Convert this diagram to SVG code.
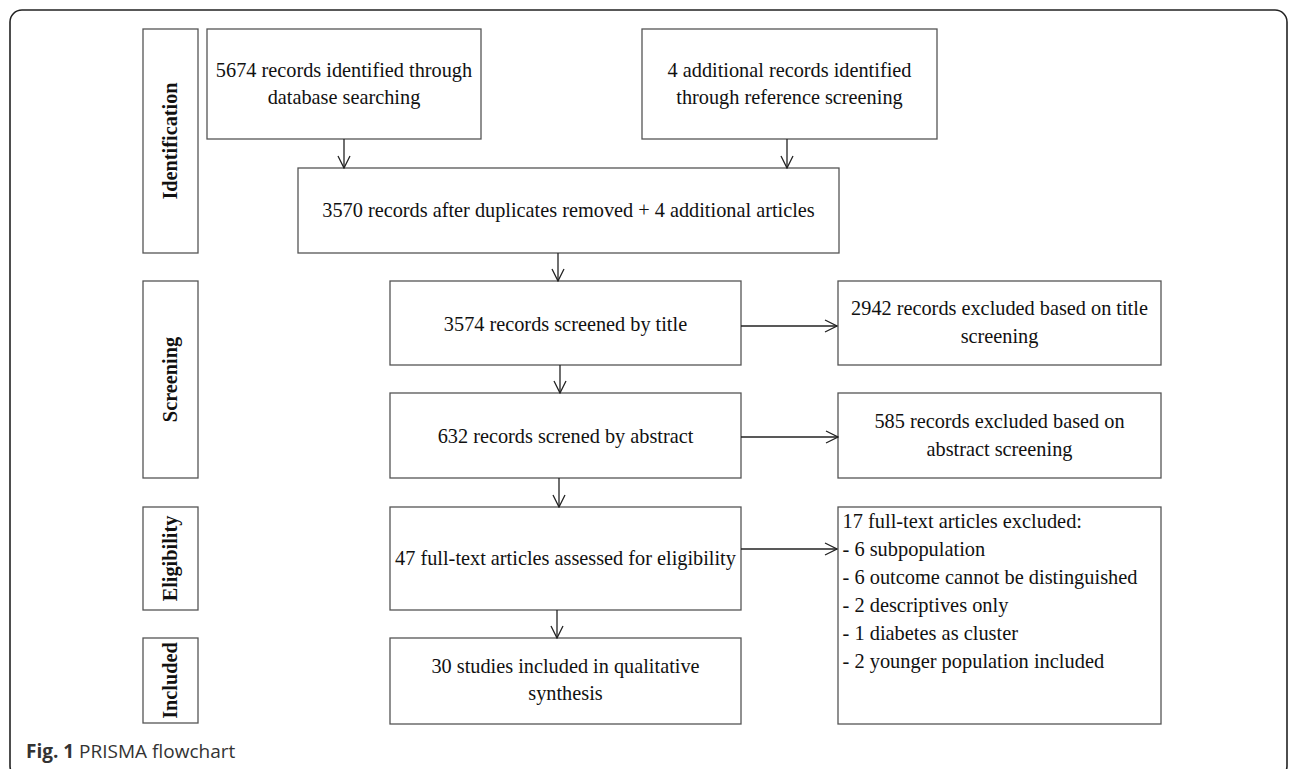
<svg xmlns="http://www.w3.org/2000/svg" width="1290" height="769" viewBox="0 0 1290 769">
<style>
.frame{fill:none;stroke:#222;stroke-width:1.6}
.box{fill:#fff;stroke:#555;stroke-width:1.3}
.t{font-family:"Liberation Serif","Times New Roman",serif;font-size:20.3px;fill:#111;text-anchor:middle}
.tl{font-family:"Liberation Serif","Times New Roman",serif;font-size:20.4px;fill:#111}
.stage{font-family:"Liberation Serif","Times New Roman",serif;font-size:20.3px;font-weight:bold;fill:#111;text-anchor:middle}
.conn{fill:none;stroke:#222;stroke-width:1.3;marker-end:url(#arr)}
.cap{font-family:"Open Sans","Noto Sans",sans-serif;font-size:19px;fill:#333}
</style>
<defs>
<marker id="arr" viewBox="0 0 14 14" refX="13" refY="7" markerWidth="14" markerHeight="14" markerUnits="userSpaceOnUse" orient="auto">
<path d="M1,1 L13,7 L1,13" fill="none" stroke="#222" stroke-width="1.3"/>
</marker>
</defs>
<rect class="frame" x="10" y="10" width="1277" height="768" rx="12"/>

<g id="stage-identification"><rect class="box" x="143" y="29" width="55" height="224"/><text class="stage" transform="translate(177,141) rotate(-90)">Identification</text></g>
<g id="stage-screening"><rect class="box" x="143" y="281" width="55" height="197"/><text class="stage" transform="translate(177,379.5) rotate(-90)">Screening</text></g>
<g id="stage-eligibility"><rect class="box" x="143" y="507" width="55" height="103"/><text class="stage" transform="translate(177,558.5) rotate(-90)">Eligibility</text></g>
<g id="stage-included"><rect class="box" x="143" y="638" width="55" height="85"/><text class="stage" transform="translate(177,680.5) rotate(-90)">Included</text></g>

<g id="n-database"><rect class="box" x="207" y="29" width="274" height="110"/><text class="t" x="344" y="77">5674 records identified through</text><text class="t" x="344" y="104">database searching</text></g>
<g id="n-reference"><rect class="box" x="642" y="29" width="295" height="110"/><text class="t" x="789.5" y="77">4 additional records identified</text><text class="t" x="789.5" y="104">through reference screening</text></g>
<g id="n-dedup"><rect class="box" x="298" y="168" width="541" height="85"/><text class="t" x="568.5" y="217">3570 records after duplicates removed + 4 additional articles</text></g>
<g id="n-title"><rect class="box" x="390" y="281" width="351" height="84"/><text class="t" x="565.5" y="331">3574 records screened by title</text></g>
<g id="n-abstract"><rect class="box" x="390" y="393" width="351" height="85"/><text class="t" x="565.5" y="443">632 records screned by abstract</text></g>
<g id="n-fulltext"><rect class="box" x="390" y="507" width="351" height="103"/><text class="t" x="565.5" y="565">47 full-text articles assessed for eligibility</text></g>
<g id="n-included"><rect class="box" x="390" y="638" width="351" height="86"/><text class="t" x="565.5" y="673">30 studies included in qualitative</text><text class="t" x="565.5" y="700">synthesis</text></g>
<g id="n-excl-title"><rect class="box" x="838" y="281" width="323" height="84"/><text class="t" x="999.5" y="315">2942 records excluded based on title</text><text class="t" x="999.5" y="343">screening</text></g>
<g id="n-excl-abstract"><rect class="box" x="838" y="393" width="323" height="85"/><text class="t" x="999.5" y="428">585 records excluded based on</text><text class="t" x="999.5" y="456">abstract screening</text></g>
<g id="n-excl-fulltext"><rect class="box" x="838" y="507" width="323" height="217"/>
<text class="tl" x="842.5" y="528">17 full-text articles excluded:</text>
<text class="tl" x="842.5" y="556">- 6 subpopulation</text>
<text class="tl" x="842.5" y="584">- 6 outcome cannot be distinguished</text>
<text class="tl" x="842.5" y="612">- 2 descriptives only</text>
<text class="tl" x="842.5" y="640">- 1 diabetes as cluster</text>
<text class="tl" x="842.5" y="668">- 2 younger population included</text></g>

<g id="connectors">
<line class="conn" x1="344" y1="139" x2="344" y2="168"/>
<line class="conn" x1="787" y1="139" x2="787" y2="168"/>
<line class="conn" x1="558" y1="253" x2="558" y2="281"/>
<line class="conn" x1="560" y1="365" x2="560" y2="393"/>
<line class="conn" x1="559" y1="478" x2="559" y2="507"/>
<line class="conn" x1="557" y1="610" x2="557" y2="638"/>
<line class="conn" x1="741" y1="326" x2="837" y2="326"/>
<line class="conn" x1="741" y1="437" x2="838" y2="437"/>
<line class="conn" x1="741" y1="549" x2="837" y2="549"/>
</g>

<text class="cap" x="26" y="758"><tspan font-weight="bold">Fig. 1</tspan> PRISMA flowchart</text>
</svg>
